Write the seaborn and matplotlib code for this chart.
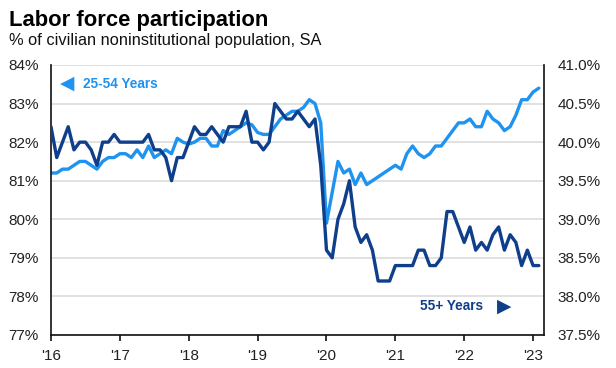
import numpy as np
import pandas as pd
import seaborn as sns
import matplotlib
matplotlib.use("Agg")
import matplotlib.pyplot as plt

# ---------------- data ----------------
month_index = list(range(86))
tick_pos = [0, 12, 24, 36, 48, 60, 72, 84]
tick_labels = ["'16", "'17", "'18", "'19", "'20", "'21", "'22", "'23"]

prime_age = [81.2, 81.2, 81.3, 81.3, 81.4, 81.5, 81.5, 81.4, 81.3, 81.5,
             81.6, 81.6, 81.7, 81.7, 81.6, 81.8, 81.6, 81.9, 81.6, 81.7,
             81.8, 81.7, 82.1, 82.0, 81.95, 82.0, 82.1, 82.1, 81.9, 81.9,
             82.3, 82.2, 82.3, 82.4, 82.5, 82.45, 82.25, 82.2, 82.2, 82.4,
             82.6, 82.7, 82.8, 82.8, 82.9, 83.1, 83.0, 82.5, 79.9, 80.7,
             81.5, 81.2, 81.3, 80.9, 81.2, 80.9, 81.0, 81.1, 81.2, 81.3,
             81.4, 81.3, 81.7, 81.9, 81.7, 81.6, 81.7, 81.9, 81.9, 82.1,
             82.3, 82.5, 82.5, 82.6, 82.4, 82.4, 82.8, 82.6, 82.5, 82.3,
             82.4, 82.7, 83.1, 83.1, 83.3, 83.4]

age_55_plus = [40.2, 39.8, 40.0, 40.2, 39.9, 40.0, 40.0, 39.9, 39.7, 40.0,
               40.0, 40.1, 40.0, 40.0, 40.0, 40.0, 40.0, 40.1, 39.9, 39.9,
               39.8, 39.5, 39.8, 39.8, 40.0, 40.2, 40.1, 40.1, 40.2, 40.1,
               40.0, 40.2, 40.2, 40.2, 40.4, 40.0, 40.0, 39.9, 40.0, 40.5,
               40.4, 40.3, 40.3, 40.4, 40.3, 40.2, 40.3, 39.7, 38.6, 38.5,
               39.0, 39.2, 39.5, 38.9, 38.7, 38.8, 38.6, 38.2, 38.2, 38.2,
               38.4, 38.4, 38.4, 38.4, 38.6, 38.6, 38.4, 38.4, 38.5, 39.1,
               39.1, 38.9, 38.7, 38.9, 38.6, 38.7, 38.6, 38.8, 38.9, 38.6,
               38.8, 38.7, 38.4, 38.6, 38.4, 38.4]

left_ticks = [77, 78, 79, 80, 81, 82, 83, 84]
right_ticks = [37.5, 38.0, 38.5, 39.0, 39.5, 40.0, 40.5, 41.0]

LIGHT = "#1f93f0"
DARK = "#0f3f8a"

# ---------------- style ----------------
sns.set_theme(style="white")
plt.rcParams["font.family"] = ["Liberation Sans", "DejaVu Sans"]

df = pd.DataFrame({"month": month_index, "prime": prime_age, "older": age_55_plus})

fig = plt.figure(figsize=(6.16, 3.68), dpi=100)
ax = fig.add_axes([51 / 616, 1 - 335 / 368, 493 / 616, 270 / 368])
ax2 = ax.twinx()

sns.lineplot(data=df, x="month", y="prime", ax=ax, color=LIGHT, linewidth=2.4)
sns.lineplot(data=df, x="month", y="older", ax=ax2, color=DARK, linewidth=2.4)

ax.set_xlim(0, 85.9)
ax.set_ylim(77, 84)
ax2.set_ylim(37.5, 41.0)

ax.set_yticks(left_ticks)
ax.set_yticklabels([f"{v}%" for v in left_ticks])
ax2.set_yticks(right_ticks)
ax2.set_yticklabels([f"{v:.1f}%" for v in right_ticks])
ax.set_xticks(tick_pos)
ax.set_xticklabels(tick_labels)

for a in (ax, ax2):
    a.set_xlabel("")
    a.set_ylabel("")

ax.yaxis.grid(True, color="#d9d9d9", linewidth=1.1)
ax.xaxis.grid(False)
ax.set_axisbelow(True)

for s in ["top", "right"]:
    ax.spines[s].set_visible(False)
for s in ["left", "bottom"]:
    ax.spines[s].set_color("#111111")
    ax.spines[s].set_linewidth(1.2)
for s in ["top", "left", "bottom"]:
    ax2.spines[s].set_visible(False)
ax2.spines["right"].set_color("#111111")
ax2.spines["right"].set_linewidth(1.2)

ax.tick_params(axis="y", left=False, length=0, pad=9, labelsize=11, labelcolor="#222222")
ax2.tick_params(axis="y", right=False, length=0, pad=10, labelsize=11, labelcolor="#222222")
ax.tick_params(axis="x", bottom=True, length=4, width=1.2, color="#111111",
               direction="out", pad=6, labelsize=11, labelcolor="#222222")

# ---------------- annotations ----------------
ax.text(0.032, 0.933, "\u25C0", transform=ax.transAxes, color=LIGHT,
        family=["DejaVu Sans"], fontsize=13.5, ha="center", va="center")
ax.text(0.065, 0.93, "25-54 Years", transform=ax.transAxes, color=LIGHT,
        fontweight="bold", fontsize=9.8, ha="left", va="center")
ax.text(0.749, 0.107, "55+ Years", transform=ax.transAxes, color=DARK,
        fontweight="bold", fontsize=9.8, ha="left", va="center")
ax.text(0.92, 0.107, "\u25B6", transform=ax.transAxes, color=DARK,
        family=["DejaVu Sans"], fontsize=13.5, ha="center", va="center")

# ---------------- titles ----------------
fig.text(9 / 616, 1 - 26 / 368, "Labor force participation", fontsize=15.8,
         fontweight="bold", color="#000000", ha="left", va="baseline")
fig.text(9 / 616, 1 - 45 / 368, "% of civilian noninstitutional population, SA",
         fontsize=11.8, color="#111111", ha="left", va="baseline")

fig.savefig("out.png", dpi=100)
